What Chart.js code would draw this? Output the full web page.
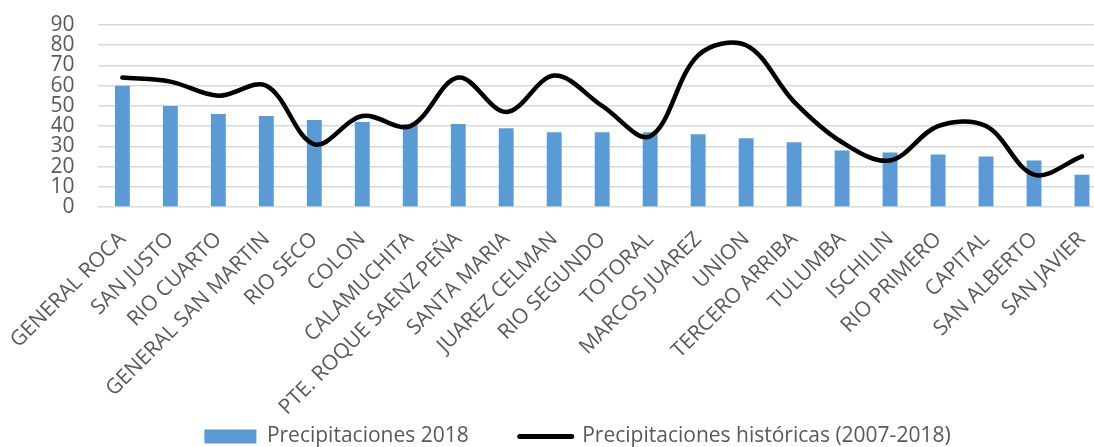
<!DOCTYPE html>
<html lang="es">
<head>
<meta charset="utf-8">
<title>Precipitaciones por departamento</title>
<script src="https://cdn.jsdelivr.net/npm/chart.js@4.4.1/dist/chart.umd.min.js"></script>
<style>
    html, body { margin: 0; padding: 0; background: #fff; overflow: hidden; }
    #contenedor { width: 1160px; height: 447px; }
</style>
</head>
<body>
<div id="contenedor">
    <canvas id="graficoLluvias" width="1160" height="447"></canvas>
</div>
<script>
// Datos del gráfico
var departamentos = [
    'GENERAL ROCA', 'SAN JUSTO', 'RIO CUARTO', 'GENERAL SAN MARTIN', 'RIO SECO',
    'COLON', 'CALAMUCHITA', 'PTE. ROQUE SAENZ PEÑA', 'SANTA MARIA', 'JUAREZ CELMAN',
    'RIO SEGUNDO', 'TOTORAL', 'MARCOS JUAREZ', 'UNION', 'TERCERO ARRIBA',
    'TULUMBA', 'ISCHILIN', 'RIO PRIMERO', 'CAPITAL', 'SAN ALBERTO', 'SAN JAVIER'
];
var precipitaciones2018 = [60, 50, 46, 45, 43, 42, 41, 41, 39, 37, 37, 37, 36, 34, 32, 28, 27, 26, 25, 23, 16];
var precipitacionesHistoricas = [64, 62, 55, 60, 31, 45, 40, 64, 47, 65, 50, 35, 75, 80, 52, 32, 23, 40, 40, 16, 25];
var marcasEjeY = [0, 10, 20, 30, 40, 50, 60, 70, 80, 90];

var colorTexto = '#595959';
var fuente = { family: "'Open Sans', sans-serif", size: 21 };

// La leyenda necesita un alto fijo para quedar abajo con el espaciado horizontal grande
var ajusteLeyenda = {
    id: 'ajusteLeyenda',
    beforeInit: function(chart) {
        var fitOriginal = chart.legend.fit;
        chart.legend.fit = function() {
            fitOriginal.call(this);
            this.height = 72;
        };
    }
};

var ctx = document.getElementById('graficoLluvias').getContext('2d');
var grafico = new Chart(ctx, {
    data: {
        labels: departamentos,
        datasets: [{
            type: 'line',
            label: 'Precipitaciones históricas (2007-2018)',
            data: precipitacionesHistoricas,
            borderColor: '#000000',
            backgroundColor: '#000000',
            borderWidth: 4.5,
            borderCapStyle: 'round',
            pointRadius: 0,
            tension: 0.35,
            order: 0
        }, {
            type: 'bar',
            label: 'Precipitaciones 2018',
            data: precipitaciones2018,
            backgroundColor: '#5B9BD5',
            borderWidth: 0,
            barPercentage: 0.31,
            categoryPercentage: 1,
            order: 1
        }]
    },
    options: {
        responsive: false,
        animation: false,
        layout: {
            padding: { left: 49, right: 54, top: 25, bottom: 0 }
        },
        scales: {
            x: {
                grid: { display: false },
                border: { display: false },
                ticks: {
                    color: colorTexto,
                    font: fuente,
                    autoSkip: false,
                    minRotation: 45,
                    maxRotation: 45,
                    padding: 12
                },
                afterFit: function(scale) {
                    scale.height = 168;
                    // las etiquetas largas bajan hasta la zona de la leyenda: no recortarlas
                    scale._computeLabelArea = function() { return undefined; };
                }
            },
            y: {
                min: 0,
                max: 90,
                afterBuildTicks: function(scale) {
                    scale.ticks = marcasEjeY.map(function(v) { return { value: v }; });
                },
                // marcas invisibles para separar los números sin agrandar el margen superior
                grid: { color: '#D9D9D9', lineWidth: 1.5, drawTicks: true, tickLength: 22, tickColor: 'rgba(0,0,0,0)' },
                border: { display: false },
                ticks: {
                    color: colorTexto,
                    font: fuente,
                    autoSkip: false,
                    padding: 2
                },
                afterFit: function(scale) { scale.width = 47; }
            }
        },
        plugins: {
            tooltip: { enabled: false },
            legend: {
                position: 'bottom',
                labels: {
                    color: colorTexto,
                    font: fuente,
                    usePointStyle: true,
                    pointStyleWidth: 52,
                    boxHeight: 14,
                    padding: 51,
                    sort: function(a, b) { return b.datasetIndex - a.datasetIndex; },
                    generateLabels: function(chart) {
                        var items = Chart.defaults.plugins.legend.labels.generateLabels(chart);
                        items.forEach(function(item) {
                            if (item.datasetIndex === 0) {
                                item.pointStyle = 'line';
                                item.lineWidth = 5;
                                item.strokeStyle = '#000000';
                                item.lineCap = 'round';
                            } else {
                                item.pointStyle = 'rect';
                                item.lineWidth = 0;
                                item.fillStyle = '#5B9BD5';
                            }
                        });
                        return items;
                    }
                }
            }
        }
    },
    plugins: [ajusteLeyenda]
});
</script>
</body>
</html>
